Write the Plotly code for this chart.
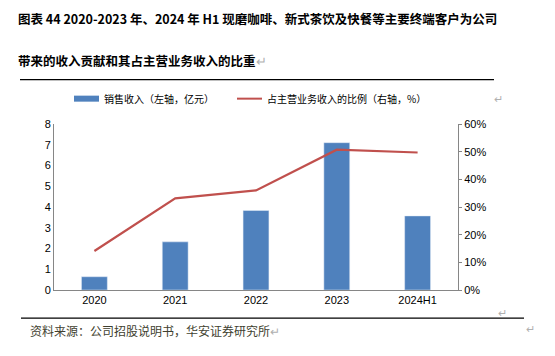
import plotly.graph_objects as go

categories = ["2020", "2021", "2022", "2023", "2024H1"]
revenue = [0.64, 2.32, 3.83, 7.10, 3.57]          # 亿元, left axis
share = [0.141, 0.331, 0.360, 0.507, 0.497]       # ratio, right axis

title1 = "图表 44 2020-2023 年、2024 年 H1 现磨咖啡、新式茶饮及快餐等主要终端客户为公司"
title2 = "带来的收入贡献和其占主营业务收入的比重"
legend_bar = "销售收入（左轴，亿元）"
legend_line = "占主营业务收入的比例（右轴，%）"
source = "资料来源：公司招股说明书，华安证券研究所"

OFF = 8  # page body margin offset
W, H = 555 - OFF, 356 - OFF
L, R, T, B = 54 - OFF, 458 - OFF, 124.3 - OFF, 290 - OFF

def px(x):
    return (x - OFF - L) / (R - L)

def py(y):
    return (B - (y - OFF)) / (B - T)

CJK = "Noto Sans CJK SC, Microsoft YaHei, sans-serif"
NUM = "Liberation Sans, Arial, sans-serif"
BLUE = "#4F81BD"
RED = "#C0504D"
AXIS = "#868686"

fig = go.Figure()
fig.add_trace(go.Bar(x=categories, y=revenue, marker_color=BLUE, width=0.32,
                     name=legend_bar, showlegend=False))
fig.add_trace(go.Scatter(x=categories, y=share, mode="lines", yaxis="y2",
                         line=dict(color=RED, width=2.2), name=legend_line,
                         showlegend=False))

shapes = []
annotations = []

# title
annotations.append(dict(text="<b>" + title1 + "</b>", x=px(16), y=py(19), xref="paper", yref="paper",
                        xanchor="left", yanchor="middle", showarrow=False,
                        font=dict(family=CJK, size=12.5, color="#000000")))
annotations.append(dict(text="<b>" + title2 + "</b>" + "<span style='color:#b0b0b0;font-weight:normal'>↵</span>",
                        x=px(16), y=py(61), xref="paper", yref="paper",
                        xanchor="left", yanchor="middle", showarrow=False,
                        font=dict(family=CJK, size=12.5, color="#000000")))
# separator lines
shapes.append(dict(type="line", xref="paper", yref="paper", x0=px(20), x1=px(494), y0=py(80), y1=py(80),
                   line=dict(color="#000000", width=1.3)))
shapes.append(dict(type="line", xref="paper", yref="paper", x0=px(21), x1=px(524), y0=py(318), y1=py(318),
                   line=dict(color="#000000", width=1.3)))

# legend
shapes.append(dict(type="rect", xref="paper", yref="paper", x0=px(74), x1=px(99), y0=py(102), y1=py(96),
                   fillcolor=BLUE, line=dict(width=0)))
annotations.append(dict(text=legend_bar, x=px(102), y=py(99), xref="paper", yref="paper",
                        xanchor="left", yanchor="middle", showarrow=False,
                        font=dict(family=CJK, size=10, color="#000000")))
shapes.append(dict(type="line", xref="paper", yref="paper", x0=px(237), x1=px(262), y0=py(99), y1=py(99),
                   line=dict(color=RED, width=2)))
annotations.append(dict(text=legend_line, x=px(265), y=py(99), xref="paper", yref="paper",
                        xanchor="left", yanchor="middle", showarrow=False,
                        font=dict(family=CJK, size=10, color="#000000")))

# return marks
for (x, y) in [(498, 98), (502, 312), (530, 328)]:
    annotations.append(dict(text="↵", x=px(x), y=py(y), xref="paper", yref="paper",
                            xanchor="center", yanchor="middle", showarrow=False,
                            font=dict(family=CJK, size=11, color="#b0b0b0")))

# source
annotations.append(dict(text=source + "<span style='color:#b0b0b0'>↵</span>", x=px(28), y=py(330),
                        xref="paper", yref="paper", xanchor="left", yanchor="middle", showarrow=False,
                        font=dict(family=CJK, size=12, color="#3f3f30")))

fig.update_layout(
    width=W, height=H,
    margin=dict(l=L, r=W - R, t=T, b=H - B, pad=0),
    paper_bgcolor="#ffffff", plot_bgcolor="#ffffff",
    xaxis=dict(type="category", showline=True, linecolor=AXIS, linewidth=1,
               ticks="", showgrid=False, zeroline=False,
               tickfont=dict(family=NUM, size=11, color="#000000")),
    yaxis=dict(range=[0, 8], dtick=1, showline=True, linecolor=AXIS, linewidth=1,
               ticks="", showgrid=False, zeroline=False,
               tickfont=dict(family=NUM, size=11, color="#000000")),
    yaxis2=dict(range=[0, 0.6], dtick=0.1, tickformat=".0%", overlaying="y", side="right",
                showline=True, linecolor=AXIS, linewidth=1, ticks="outside", ticklen=3,
                tickcolor=AXIS, showgrid=False, zeroline=False,
                tickfont=dict(family=NUM, size=11, color="#000000")),
    shapes=shapes, annotations=annotations,
    showlegend=False,
)

fig.write_html("out.html")
